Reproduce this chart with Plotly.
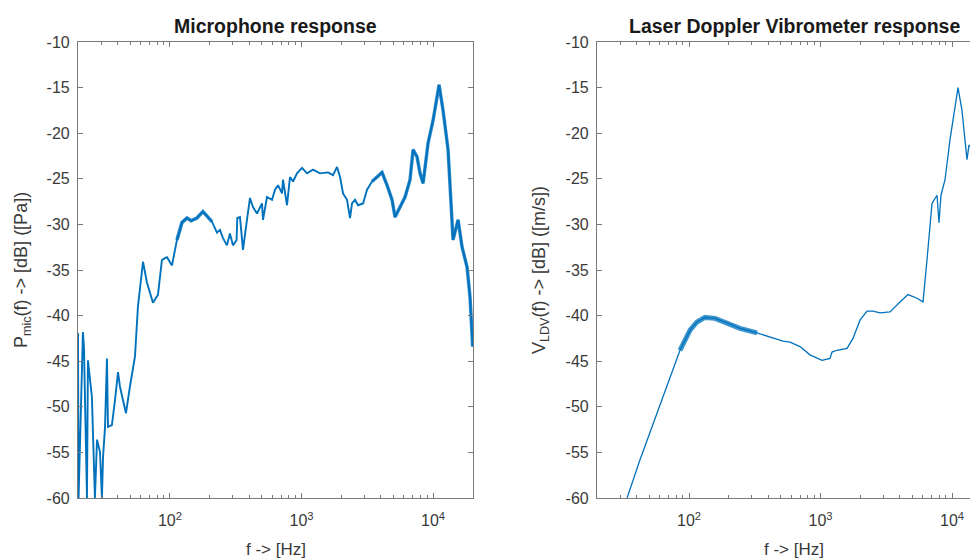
import plotly.graph_objects as go
from plotly.subplots import make_subplots

# ---- Microphone response data (frequency in Hz, level in dB re 1 Pa) ----
mic_freq = [20.0, 20.2, 21.8, 22.2, 23.4, 23.8, 25.5, 26.0, 26.9, 27.9, 29.4, 30.4, 31.0,
            32.1, 33.2, 33.8, 36.2, 38.2, 40.3, 41.7, 46.3, 49.6, 54.2, 57.1, 62.4,
            66.9, 74.3, 81.1, 86.9, 91.6, 94.9, 103.6, 113.0, 123.4, 134.7, 145.0, 160.4,
            178.2, 194.5, 208.6, 227.7, 239.9, 253.0, 271.1, 285.8, 301.3, 321.0,
            325.0, 340.6, 359.0, 385.0, 405.9, 427.8, 458.8, 500.8, 509.6, 546.5,
            596.8, 628.9, 662.9, 710.8, 723.1, 775.7, 817.6, 861.9, 924.3, 1009,
            1101, 1223, 1382, 1591, 1736, 1862, 1963, 2069, 2218, 2338, 2421, 2552,
            2690, 2936, 3148, 3436, 3750, 4093, 4467, 4876, 5140, 5610, 6123, 6683,
            7046, 7553, 7963, 8395, 9162, 10000, 11110, 11910, 13000, 14190, 15490,
            16620, 18140, 19110, 20000]
mic_db = [-41.9, -60.0, -41.8, -43.5, -60.0, -44.9, -48.9, -52.9, -60.0, -53.6, -55.0, -60.0, -55.5,
          -52.2, -44.7, -52.2, -52.0, -49.3, -46.2, -47.8, -50.7, -47.8, -44.5, -39.0, -34.1,
          -36.4, -38.6, -37.7, -33.9, -33.7, -33.6, -34.5, -31.7, -29.8, -29.3, -29.6, -29.3,
          -28.6, -29.2, -29.7, -30.9, -30.6, -31.5, -32.3, -31.0, -32.3, -31.7,
          -29.3, -29.2, -32.8, -29.5, -27.1, -28.1, -28.8, -27.7, -29.5, -27.0,
          -27.3, -26.2, -25.7, -26.6, -25.1, -27.9, -24.8, -25.3, -24.4, -23.8,
          -24.4, -24.0, -24.4, -24.3, -24.6, -23.7, -24.8, -26.6, -27.3, -29.3, -27.7, -27.3,
          -27.9, -27.7, -26.2, -25.3, -24.8, -24.3, -25.7, -27.3, -29.2, -28.1, -27.0, -25.1,
          -21.8, -22.6, -24.4, -25.5, -21.1, -18.6, -14.7, -17.5, -21.8, -31.7, -29.5,
          -32.5, -34.7, -38.0, -43.4]

# ---- Laser Doppler Vibrometer response data (frequency in Hz, level in dB re 1 m/s) ----
ldv_freq = [33.8, 42.4, 57.1, 71.7, 85.4, 101.8, 115.0, 132.3, 157.7, 194.5, 244.3,
            328.9, 435.3, 518.5, 586.2, 698.3, 831.8, 1026.6, 1181, 1223, 1335, 1591,
            1766, 1997, 2258, 2507, 2835, 3377, 4024, 4628, 5418, 6019, 6455, 7045,
            7691, 7963, 8248, 8849, 9656, 11110, 11910, 13000, 13460, 15490, 16500]
ldv_db = [-60.0, -55.8, -50.7, -46.7, -43.8, -41.6, -40.7, -40.2, -40.3, -40.8, -41.4,
          -41.9, -42.5, -42.8, -42.9, -43.4, -44.3, -44.9, -44.7, -44.0, -43.8, -43.6,
          -42.5, -40.5, -39.5, -39.5, -39.7, -39.6, -38.5, -37.7, -38.1, -38.5, -33.9,
          -27.7, -26.8, -29.8, -26.8, -25.1, -20.7, -15.0, -17.5, -22.9, -21.3, -22.1, -22.5]

y_ticks = [-60, -55, -50, -45, -40, -35, -30, -25, -20, -15, -10]
y_tick_text = ["-60", "-55", "-50", "-45", "-40", "-35", "-30", "-25", "-20", "-15", "-10"]
x_ticks = [100, 1000, 10000]
x_tick_text = ["10<sup>2</sup>", "10<sup>3</sup>", "10<sup>4</sup>"]
x_minor_ticks = [20, 30, 40, 50, 60, 70, 80, 90,
                 200, 300, 400, 500, 600, 700, 800, 900,
                 2000, 3000, 4000, 5000, 6000, 7000, 8000, 9000, 20000]

BLUE = "#0072BD"
AX = "#7a7a7a"
TXT = "#3a3a3a"
FONT = "Liberation Sans, Arial, sans-serif"

fig = make_subplots(rows=1, cols=2)

# noisy (thick) stretches of the microphone curve
fig.add_trace(go.Scatter(x=mic_freq[32:40], y=mic_db[32:40], mode="lines",
                         line=dict(color=BLUE, width=3.6), opacity=0.8, showlegend=False), row=1, col=1)
fig.add_trace(go.Scatter(x=mic_freq[82:106], y=mic_db[82:106], mode="lines",
                         line=dict(color=BLUE, width=3.4), opacity=0.8, showlegend=False), row=1, col=1)
fig.add_trace(go.Scatter(x=mic_freq, y=mic_db, mode="lines",
                         line=dict(color=BLUE, width=1.9), showlegend=False), row=1, col=1)
fig.add_trace(go.Scatter(x=ldv_freq[4:12], y=ldv_db[4:12], mode="lines",
                         line=dict(color=BLUE, width=5), opacity=0.75, showlegend=False), row=1, col=2)
fig.add_trace(go.Scatter(x=ldv_freq, y=ldv_db, mode="lines",
                         line=dict(color=BLUE, width=1.3), showlegend=False), row=1, col=2)

OFF = 8  # page body margin
W, H = 970, 552
ML, MR, MT, MB = 70, 0, 34, 62
PW = W - ML - MR
PH = H - MT - MB

def px(xp):
    return (xp - OFF - ML) / PW

def py(yp):
    return (H - MB - (yp - OFF)) / PH

common_x = dict(type="log", tickmode="array", tickvals=x_ticks, ticktext=x_tick_text,
                ticks="inside", ticklen=5, tickcolor=AX, showline=True, linecolor=AX,
                linewidth=1.2, showgrid=False, zeroline=False,
                tickfont=dict(family=FONT, size=16, color=TXT), ticklabelstandoff=8,
                minor=dict(ticks="inside", ticklen=3, tickcolor=AX, tickmode="array",
                           tickvals=x_minor_ticks, showgrid=False))
common_y = dict(range=[-60, -10], tickmode="array", tickvals=y_ticks, ticktext=y_tick_text,
                ticks="inside", ticklen=5, tickcolor=AX, showline=True, linecolor=AX,
                linewidth=1.2, showgrid=False, zeroline=False, ticklabelstandoff=4,
                tickfont=dict(family=FONT, size=16, color=TXT))

fig.update_xaxes(**common_x, mirror="ticks", range=[1.301, 4.3036],
                 domain=[0, px(473)], row=1, col=1)
fig.update_xaxes(**common_x, mirror="ticks", range=[1.3004, 4.1977],
                 domain=[px(597), 1], row=1, col=2)
fig.update_yaxes(**common_y, mirror="ticks", row=1, col=1)
fig.update_yaxes(**common_y, mirror=False, row=1, col=2)

def note(text, xp, yp, size, angle=0, color=TXT):
    return dict(text=text, x=px(xp), y=py(yp), xref="paper", yref="paper",
                xanchor="center", yanchor="middle", showarrow=False, textangle=angle,
                font=dict(family=FONT, size=size, color=color))

ann = [
    note("<b>Microphone response</b>", 275.5, 26, 19.5, color="#1a1a1a"),
    note("<b>Laser Doppler Vibrometer response</b>", 794, 26, 19.5, color="#1a1a1a"),
    note("f -> [Hz]", 275.5, 549, 17),
    note("f -> [Hz]", 794, 549, 17),
    note("P<sub>mic</sub>(f) -> [dB] ([Pa])", 22, 270, 18, angle=-90),
    note("V<sub>LDV</sub>(f) -> [dB] ([m/s])", 540, 270, 18, angle=-90),
]

fig.update_layout(width=W, height=H, margin=dict(l=ML, r=MR, t=MT, b=MB),
                  paper_bgcolor="white", plot_bgcolor="white", annotations=ann,
                  font=dict(family=FONT))

fig.write_html("out.html")
